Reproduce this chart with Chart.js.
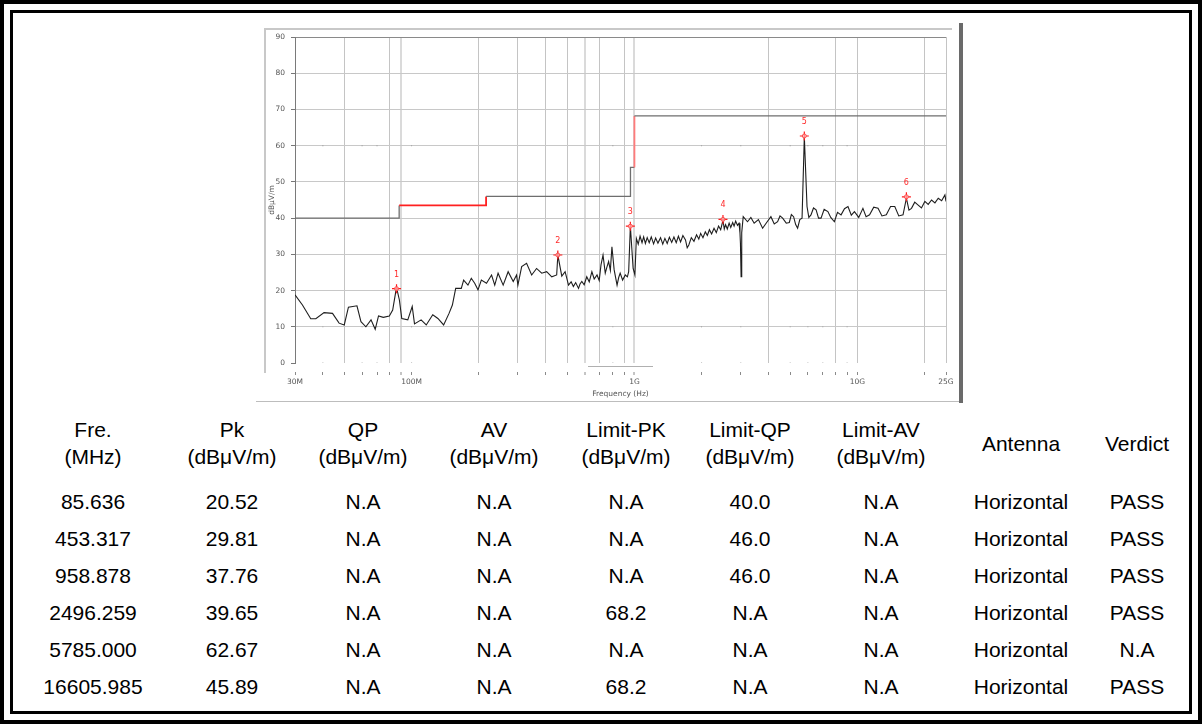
<!DOCTYPE html>
<html>
<head>
<meta charset="utf-8">
<script src="https://cdn.jsdelivr.net/npm/chart.js@4.4.0/dist/chart.umd.min.js"></script>
<style>
  html, body { margin: 0; padding: 0; background: #fff; }
  #page { position: relative; width: 1202px; height: 724px; overflow: hidden; background: #fff; }
  #outer { position: absolute; left: 0; top: 0; width: 1202px; height: 724px; box-sizing: border-box; border: 4px solid #000; }
  #inner { position: absolute; left: 10px; top: 10px; width: 1182px; height: 704px; box-sizing: border-box; border: 3px solid #000; }
  .deco { position: absolute; }
  #chartBox { position: absolute; left: 0; top: 0; width: 1202px; height: 405px; }
  .cell { position: absolute; font-family: "Liberation Sans", Arial, sans-serif; font-size: 21px; color: #000; text-align: center; white-space: nowrap; line-height: 27px; }
</style>
</head>
<body>
<div id="page">
  <div id="outer"></div>
  <div id="inner"></div>
  <div class="deco" style="left:265px;top:28px;width:687px;height:2px;background:#c8c8c8"></div>
  <div class="deco" style="left:264px;top:28px;width:2px;height:345px;background:#c8c8c8"></div>
  <div class="deco" style="left:256px;top:401px;width:704px;height:1px;background:#bdbdbd"></div>
  <div class="deco" style="left:959px;top:23px;width:4px;height:380px;background:#6a6a6a"></div>
  <div class="deco" style="left:588px;top:366px;width:65px;height:1px;background:#b0b0b0"></div>
  <div id="chartBox"><canvas id="c" width="1202" height="405"></canvas></div>
  <div id="table"></div>
</div>
<script>
// ---------- DATA ----------
const traceFreq = [30,32.4,35.3,37.2,40.5,44.2,47.3,49.9,52.1,56.9,59.3,62.4,65.8,68.7,71.1,74.7,79.5,82.3,85.6,88.2,90.4,96.2,100.7,103.1,110.4,116.4,124.5,131.3,139.3,147.3,152.5,157.8,167.2,171.3,179.1,185.4,192,198.7,205.7,216.9,228.6,236.2,244.5,257.7,271.3,285.9,295.9,300,312,328.2,345.9,363.9,383.7,403.8,425.7,447.9,453.3,472.2,488.7,506.1,520,532.2,545,561.3,570,580.8,595,611.1,627,644.4,660,679.5,695,708,723,739.8,752,765.9,780,792.6,811.2,835.8,850,863.1,885,910.2,930,942.3,958.9,986.7,1005,1020,1040,1060,1082,1100,1120,1141,1165,1190,1219,1245,1275,1310,1340,1370,1403,1435,1470,1504,1540,1575,1611,1650,1695,1725,1754,1800,1850,1900,1945,1982,2030,2080,2124,2170,2220,2276,2330,2385,2438,2496,2530,2565,2610,2660,2705,2760,2800,2846,2900,2946,2975,2990,3010,3030,3077,3216,3330,3445,3600,3760,3920,4096,4240,4389,4500,4624,4800,4954,5060,5178,5290,5397,5520,5651,5785,5948,6060,6196,6360,6533,6700,6874,7100,7381,7600,7891,8150,8455,8760,9080,9400,9709,10150,10597,10950,11352,11850,12389,12900,13494,14100,14727,15350,16039,16606,17050,17503,18100,18755,19400,20097,20800,21535,22300,23073,23900,24722,25000];
const traceLevel = [18.8,16.0,12.2,12.2,13.9,13.7,11.0,10.5,15.4,15.8,11.4,10.0,11.9,9.3,13.0,12.6,13.0,14.6,20.9,17.4,12.3,11.9,15.6,10.8,11.9,10.5,13.3,12.3,10.5,13.7,16.0,20.6,20.6,22.9,21.5,23.4,22.0,20.2,22.9,22.0,24.3,21.5,24.8,21.5,25.2,22.5,24.3,21.5,26.6,27.5,24.3,26.1,24.8,25.2,23.8,24.3,29.8,24.0,25.2,21.5,22.4,21.1,22.2,20.6,21.8,22.5,21.6,23.8,22.4,25.2,23.2,24.3,22.8,27.1,29.8,24.8,26.4,28.0,25.6,32.1,25.7,21.5,23.6,24.8,22.9,24.3,23.8,25.2,37.8,26.1,24.3,34.4,32.8,35.0,33.2,34.8,33.0,34.6,33.2,34.8,32.9,34.5,33.1,34.6,32.8,34.4,33.0,34.7,33.3,34.8,33.2,35.0,33.4,35.2,34.0,31.8,32.6,34.6,33.6,35.4,34.2,35.8,34.6,36.2,35.2,36.8,35.6,37.2,36.0,37.8,36.8,39.4,37.0,38.2,37.0,38.6,37.4,38.8,37.8,39.2,38.0,38.6,36.0,33.0,23.8,36.0,40.4,39.0,40.2,38.6,39.6,37.2,38.8,40.4,38.4,39.0,40.6,40.0,38.6,38.8,41.0,40.4,38.2,37.2,39.6,40.0,62.5,43.2,40.2,40.9,42.8,42.3,40.0,40.0,42.4,41.8,40.2,39.0,41.6,40.9,42.6,43.2,40.8,41.8,40.2,42.7,40.4,40.9,43.0,42.7,40.6,40.9,43.2,43.2,40.6,40.9,45.5,42.2,42.7,44.4,43.6,42.8,44.6,43.8,45.0,44.2,45.5,44.8,46.4,44.6];

const limitFreq  = [30, 88, 88, 216, 216, 960, 960, 1000, 1000, 25000];
const limitLevel = [40, 40, 43.5, 43.5, 46, 46, 54, 54, 68.2, 68.2];
const limitRedSegments = [2, 3, 7];

const markerFreq  = [85.636, 453.317, 958.878, 2496.259, 5785.000, 16605.985];
const markerLevel = [20.52, 29.81, 37.76, 39.65, 62.67, 45.89];

const yTicks = [0,10,20,30,40,50,60,70,80,90];
const xTickValues = [30,40,50,60,70,80,90,100,200,300,400,500,600,700,800,900,1000,2000,3000,4000,5000,6000,7000,8000,9000,10000,20000,25000];
const xTickLabels = {30:'30M', 100:'100M', 1000:'1G', 10000:'10G', 25000:'25G'};
const xGridValues = [50,80,90,200,300,400,500,600,700,900,1000,4000,8000,10000,20000,25000];
const xWideGrid = [90,600,1000];

// faint dot grid of the analyser display
const dotFreqs  = [40,60,70,100,800,2000,3000,5000,6000,7000,9000];
const dotLevels = [0,10,60];

// table
const headers = [['Fre.','(MHz)'],['Pk','(dBμV/m)'],['QP','(dBμV/m)'],['AV','(dBμV/m)'],['Limit-PK','(dBμV/m)'],['Limit-QP','(dBμV/m)'],['Limit-AV','(dBμV/m)'],['Antenna'],['Verdict']];
const colFre      = ['85.636','453.317','958.878','2496.259','5785.000','16605.985'];
const colPk       = ['20.52','29.81','37.76','39.65','62.67','45.89'];
const colQP       = ['N.A','N.A','N.A','N.A','N.A','N.A'];
const colAV       = ['N.A','N.A','N.A','N.A','N.A','N.A'];
const colLimitPK  = ['N.A','N.A','N.A','68.2','N.A','68.2'];
const colLimitQP  = ['40.0','46.0','46.0','N.A','N.A','N.A'];
const colLimitAV  = ['N.A','N.A','N.A','N.A','N.A','N.A'];
const colAntenna  = ['Horizontal','Horizontal','Horizontal','Horizontal','Horizontal','Horizontal'];
const colVerdict  = ['PASS','PASS','PASS','PASS','N.A','PASS'];

// ---------- TABLE ----------
(function buildTable(){
  const centers = [93, 232, 363, 494, 626, 750, 881, 1021, 1137];
  const cols = [colFre,colPk,colQP,colAV,colLimitPK,colLimitQP,colLimitAV,colAntenna,colVerdict];
  const t = document.getElementById('table');
  const w = 150;
  headers.forEach((h, i) => {
    const d = document.createElement('div');
    d.className = 'cell';
    d.style.left = (centers[i] - w/2) + 'px';
    d.style.width = w + 'px';
    d.style.top = (h.length === 2 ? 416 : 429.5) + 'px';
    d.innerHTML = h.join('<br>');
    t.appendChild(d);
  });
  for (let r = 0; r < colFre.length; r++) {
    cols.forEach((c, i) => {
      const d = document.createElement('div');
      d.className = 'cell';
      d.style.left = (centers[i] - w/2) + 'px';
      d.style.width = w + 'px';
      d.style.top = (488 + r*37) + 'px';
      d.textContent = c[r];
      t.appendChild(d);
    });
  }
})();

// ---------- CHART ----------
const pairs = (xs, ys) => xs.map((x, i) => ({x: x, y: ys[i]}));
const dotData = [];
dotLevels.forEach(l => dotFreqs.forEach(f => dotData.push({x: f, y: l})));

const markerLabels = {
  id: 'markerLabels',
  afterDatasetsDraw(chart) {
    const meta = chart.getDatasetMeta(2);
    const ctx = chart.ctx;
    ctx.save();
    ctx.fillStyle = '#ff2a2a';
    ctx.font = '8px "DejaVu Sans", sans-serif';
    ctx.textAlign = 'center';
    ctx.textBaseline = 'middle';
    meta.data.forEach((pt, i) => ctx.fillText(String(i + 1), pt.x, pt.y - 14));
    ctx.restore();
  }
};

new Chart(document.getElementById('c'), {
  type: 'line',
  data: {
    datasets: [
      {
        label: 'Limit',
        data: pairs(limitFreq, limitLevel),
        borderColor: '#6e6e6e',
        borderWidth: 1.3,
        pointRadius: 0,
        tension: 0,
        segment: {
          borderColor: ctx => limitRedSegments.includes(ctx.p0DataIndex) ? (ctx.p0DataIndex === 7 ? '#ff7a7a' : '#ff2020') : undefined,
          borderWidth: ctx => limitRedSegments.includes(ctx.p0DataIndex) ? 1.8 : undefined
        },
        order: 3
      },
      {
        label: 'Trace',
        data: pairs(traceFreq, traceLevel),
        borderColor: '#1e1e1e',
        borderWidth: 1.1,
        pointRadius: 0,
        tension: 0,
        order: 2
      },
      {
        label: 'Markers',
        data: pairs(markerFreq, markerLevel),
        showLine: false,
        pointStyle: 'cross',
        pointRadius: 4.5,
        borderColor: '#ff1a1a',
        borderWidth: 1.2,
        order: 1
      },
      {
        label: 'MarkersRing',
        data: pairs(markerFreq, markerLevel),
        showLine: false,
        pointStyle: 'circle',
        pointRadius: 2,
        borderColor: '#ff4a4a',
        backgroundColor: 'rgba(255,255,255,0.5)',
        borderWidth: 1,
        order: 0
      },
      {
        label: 'Dots',
        data: dotData,
        showLine: false,
        pointStyle: 'rect',
        pointRadius: 0.8,
        borderWidth: 0,
        backgroundColor: '#a8a8a8',
        order: 4
      }
    ]
  },
  options: {
    responsive: false,
    animation: false,
    devicePixelRatio: 1,
    layout: { padding: { left: 260, right: 256, top: 37, bottom: 0 } },
    plugins: { legend: { display: false }, tooltip: { enabled: false } },
    scales: {
      x: {
        type: 'logarithmic',
        min: 30, max: 25000,
        afterFit: s => { s.height = 42; },
        afterBuildTicks: s => { s.ticks = xTickValues.map(v => ({ value: v })); },
        ticks: {
          autoSkip: false, maxRotation: 0, padding: 3,
          color: '#555', font: { family: '"DejaVu Sans", sans-serif', size: 7.5 },
          callback: v => xTickLabels[v] || ''
        },
        grid: {
          color: c => c.tick && xGridValues.includes(c.tick.value) ? (xWideGrid.includes(c.tick.value) ? '#dadada' : '#c4c4c4') : 'rgba(0,0,0,0)',
          lineWidth: c => c.tick && xWideGrid.includes(c.tick.value) ? 2 : 1,
          tickColor: '#8a8a8a',
          tickLength: 12,
          tickWidth: 1,
          tickBorderDash: [0, 9, 3, 100]
        },
        border: { display: false },
        title: { display: true, text: 'Frequency (Hz)', color: '#555', font: { family: '"DejaVu Sans", sans-serif', size: 7.5 }, padding: { top: 0, bottom: 6 } }
      },
      y: {
        min: 0, max: 90,
        afterFit: s => { s.width = 35; },
        afterBuildTicks: s => { s.ticks = yTicks.map(v => ({ value: v })); },
        ticks: { color: '#555', padding: 1, font: { family: '"DejaVu Sans", sans-serif', size: 7.5 } },
        grid: {
          color: c => c.tick && c.tick.value === 90 ? '#8a8a8a' : (c.tick && c.tick.value === 0 ? 'rgba(0,0,0,0)' : '#c8c8c8'),
          lineWidth: 1,
          tickColor: '#777',
          tickLength: 9,
          tickBorderDash: [0, 5, 4, 100]
        },
        border: { display: true, color: '#7a7a7a', width: 1 },
        title: { display: true, text: 'dBμV/m', color: '#555', font: { family: '"DejaVu Sans", sans-serif', size: 7.5 }, padding: { top: 8, bottom: 0 } }
      }
    }
  },
  plugins: [markerLabels]
});
</script>
</body>
</html>
